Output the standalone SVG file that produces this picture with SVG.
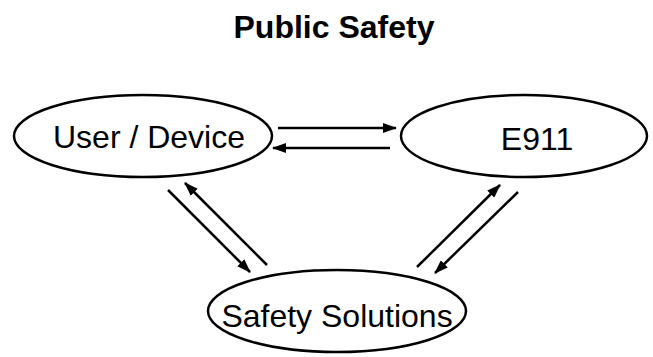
<svg xmlns="http://www.w3.org/2000/svg" width="653" height="357" viewBox="0 0 653 357">
<defs>
<marker id="ah" viewBox="0 0 14 10" refX="13" refY="5" markerWidth="14" markerHeight="10" orient="auto" markerUnits="userSpaceOnUse">
<path d="M0,0 L14,5 L0,10 Z" fill="#000"/>
</marker>
<style>
.node{fill:#fff;stroke:#000;stroke-width:2.5}
.lbl{font-family:"Liberation Sans",Arial,sans-serif;font-size:32px;fill:#000;text-anchor:middle}
.title{font-family:"Liberation Sans",Arial,sans-serif;font-size:32px;font-weight:bold;fill:#000;text-anchor:middle}
.conn line{stroke:#000;stroke-width:2.5;marker-end:url(#ah)}
</style>
</defs>
<rect width="653" height="357" fill="#fff"/>
<text class="title" x="334" y="38">Public Safety</text>
<g id="user-device">
<ellipse class="node" cx="143" cy="136" rx="129" ry="41"/>
<text class="lbl" x="149" y="148">User / Device</text>
</g>
<g id="e911">
<ellipse class="node" cx="524" cy="136" rx="123" ry="41"/>
<text class="lbl" x="537" y="150">E911</text>
</g>
<g id="safety-solutions">
<ellipse class="node" cx="337" cy="311" rx="129" ry="41"/>
<text class="lbl" x="337" y="327">Safety Solutions</text>
</g>
<g class="conn" id="connectors">
<line x1="278" y1="128" x2="396" y2="128"/>
<line x1="390" y1="148" x2="273" y2="148"/>
<line x1="168" y1="190" x2="250" y2="272"/>
<line x1="267" y1="265" x2="185" y2="183"/>
<line x1="417" y1="267" x2="500" y2="185"/>
<line x1="518" y1="192" x2="435" y2="273"/>
</g>
</svg>
